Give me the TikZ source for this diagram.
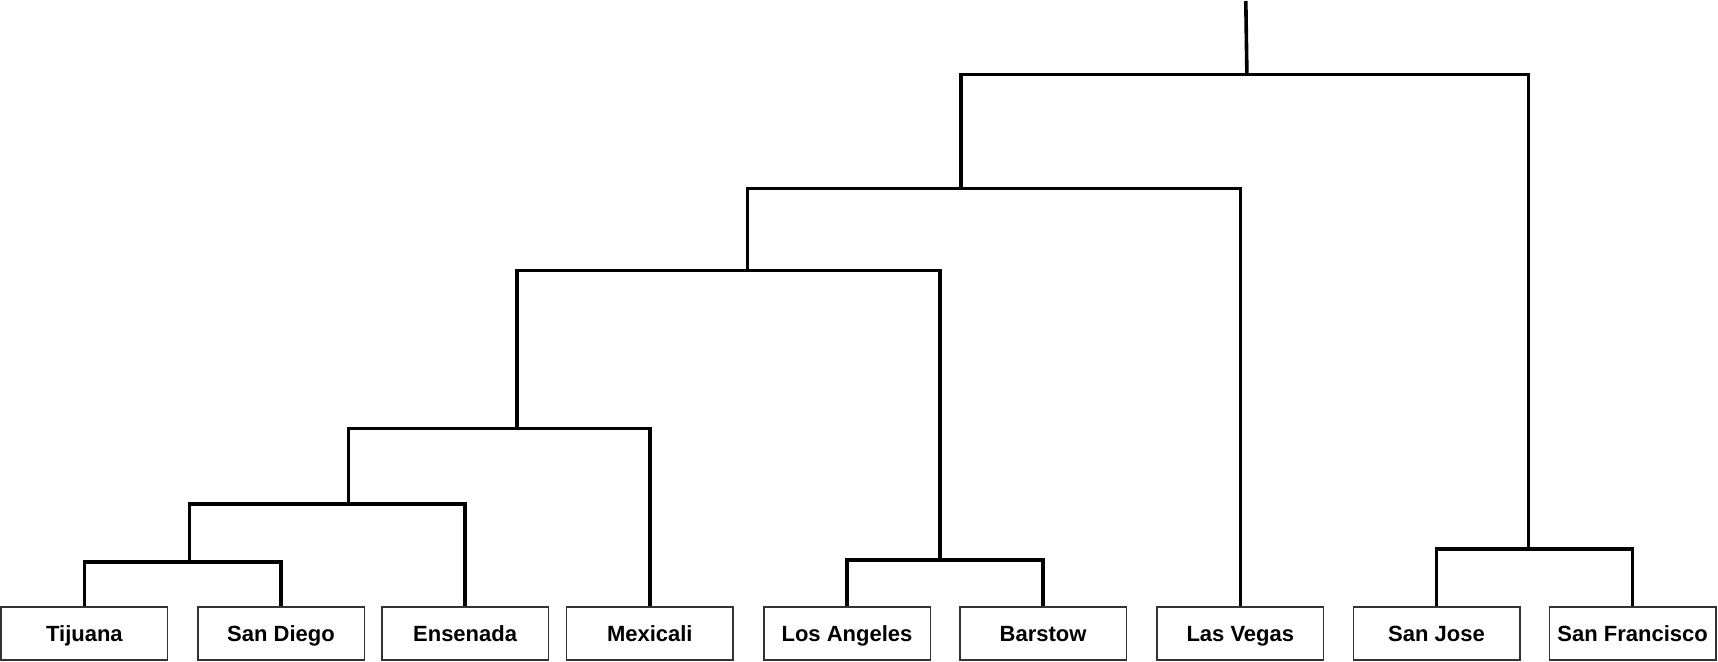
\documentclass[tikz,border=0pt]{standalone}
\usepackage{fontspec}
\setmainfont{Liberation Sans}
\tikzset{
  city/.style={draw=black!80,line width=0.75pt,minimum width=83.25pt,minimum height=26.5pt,
    inner sep=0pt,text height=8pt,text depth=0pt,font=\fontsize{11}{13}\selectfont\bfseries},
  link/.style={line width=1.8pt},
}
\begin{document}
\begin{tikzpicture}[x=0.5pt,y=-0.5pt]
  \useasboundingbox (0,0) rectangle (1718,661);
  % leaves
  \foreach \n/\x/\t in {tij/84.4/Tijuana,sd/281/San Diego,ens/465.1/Ensenada,mex/649.8/Mexicali,
    la/847/Los Angeles,bar/1043.1/Barstow,lv/1240.3/Las Vegas,sj/1436.5/San Jose,sf/1632.6/San Francisco}
    \node[city] (\n) at (\x,633.3) {\t};
  % joins
  \coordinate (j1) at (189.6,562.1);
  \coordinate (j2) at (348.4,504);
  \coordinate (j3) at (517.2,428.4);
  \coordinate (j4) at (940.1,559.9);
  \coordinate (j5) at (747.3,270.6);
  \coordinate (j6) at (960.9,188.5);
  \coordinate (j7) at (1528.5,549);
  \coordinate (j8) at (1246.9,74.5);
  \coordinate (root) at (1245.8,1);
  % branches
  \draw[link] (tij.north) |- (j1) -| (sd.north);
  \draw[link] (j1) |- (j2) -| (ens.north);
  \draw[link] (j2) |- (j3) -| (mex.north);
  \draw[link] (la.north) |- (j4) -| (bar.north);
  \draw[link] (j3) |- (j5) -| (j4);
  \draw[link] (j5) |- (j6) -| (lv.north);
  \draw[link] (sj.north) |- (j7) -| (sf.north);
  \draw[link] (j6) |- (j8) -| (j7);
  \draw[link] (j8) -- (root);
\end{tikzpicture}
\end{document}
